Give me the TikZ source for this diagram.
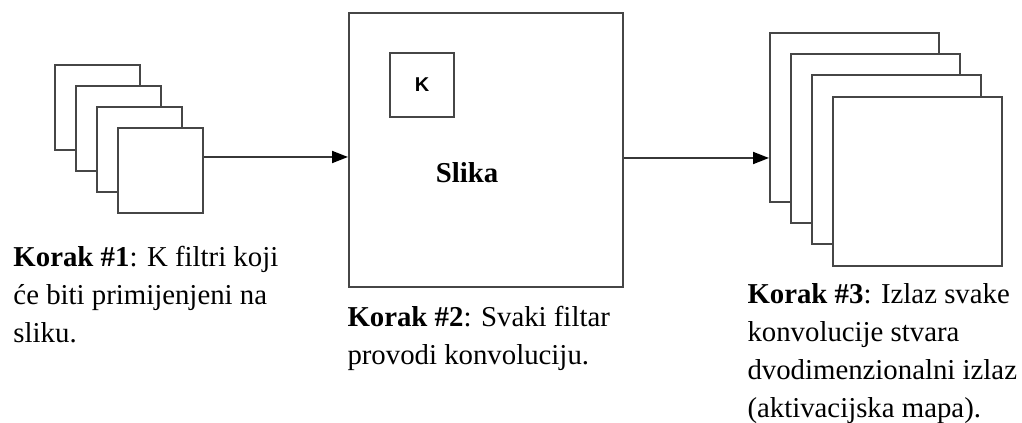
\documentclass[tikz,border=0pt]{standalone}
\usepackage{fontspec}
\setmainfont{Liberation Serif}
\newfontfamily\kfont{Liberation Sans}
\usetikzlibrary{arrows.meta}

\tikzset{every picture/.style={line width=0.75pt}}
\tikzset{
  sq/.style={draw={rgb, 255:red, 70; green, 70; blue, 70}, line width=1.8pt, fill=white, inner sep=0pt, anchor=north west},
  conn/.style={draw={rgb, 255:red, 55; green, 55; blue, 55}, line width=1.4pt, -{Triangle[length=12pt,width=9pt,fill=black,color=black]}},
  txt/.style={anchor=north west, inner sep=0pt, align=left, font=\fontsize{21.6}{28.5}\selectfont}
}

\begin{document}
\begin{tikzpicture}[x=0.75pt,y=0.75pt,yscale=-1,xscale=1]
\path[use as bounding box] (0,0) rectangle (1022,423);

%Shape: Square (filters)
\node[sq, minimum size=63.75pt] (filt1) at (54,64) {};
\node[sq, minimum size=63.75pt] (filt2) at (75,85) {};
\node[sq, minimum size=63.75pt] (filt3) at (96,106) {};
\node[sq, minimum size=63.75pt] (filt4) at (117,127) {};

%Shape: Square (image)
\node[sq, line width=1.6pt, minimum size=205.5pt] (slika) at (348,12) {};
\node[sq, line width=1.6pt, minimum size=48pt, anchor=center, font=\kfont\bfseries\fontsize{15}{15}\selectfont] (kbox) at (422,85) {K};
\node[font=\bfseries\fontsize{21.6}{28.5}\selectfont, inner sep=0pt] (slikatxt) at (467,173) {Slika};

%Shape: Square (maps)
\node[sq, minimum size=126.75pt] (map1) at (769,32) {};
\node[sq, minimum size=126.75pt] (map2) at (790,53) {};
\node[sq, minimum size=126.75pt] (map3) at (811,74) {};
\node[sq, minimum size=126.75pt] (map4) at (832,96) {};

%Straight Lines
\draw[conn] (filt4.east |- 0,157) -- (slika.west |- 0,157);
\draw[conn] (slika.east |- 0,158) -- (map1.west |- 0,158);

% Text Node
\node[txt] (step1) at (13,246) {\textbf{Korak \#1}: K filtri koji\\će biti primijenjeni na\\sliku.};
% Text Node
\node[txt] (step2) at (347,306) {\textbf{Korak \#2}: Svaki filtar\\provodi konvoluciju.};
% Text Node
\node[txt] (step3) at (747,283) {\textbf{Korak \#3}: Izlaz svake\\konvolucije stvara\\dvodimenzionalni izlaz\\(aktivacijska mapa).};

\end{tikzpicture}
\end{document}
